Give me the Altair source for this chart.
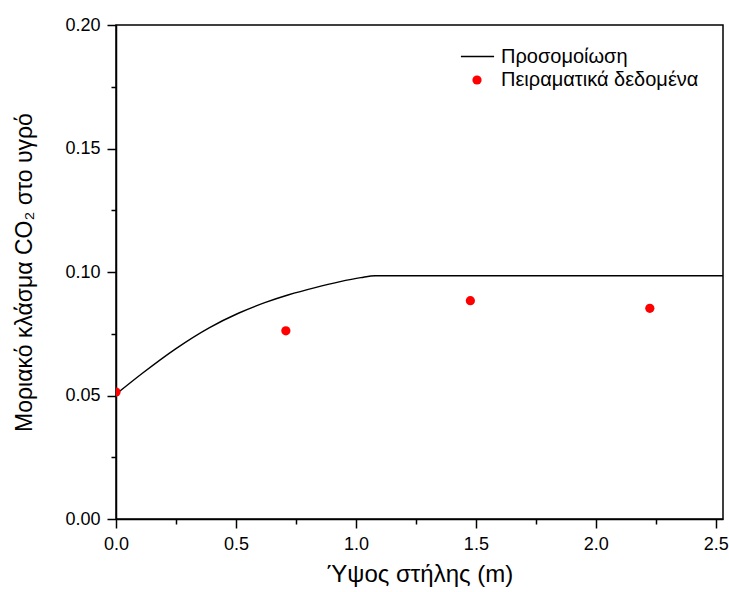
import altair as alt
import pandas as pd

# Simulation curve
sim_x = [0.0, 0.11, 0.25, 0.39, 0.51, 0.62, 0.72, 0.83, 0.93, 1.02, 1.08, 2.55]
sim_y = [0.0505, 0.0590, 0.0690, 0.0775, 0.0833, 0.0876, 0.0908, 0.0937, 0.0960, 0.0977, 0.0985, 0.0985]

# Experimental data
exp_x = [0.0, 0.708, 1.477, 2.225]
exp_y = [0.0514, 0.0762, 0.0884, 0.0853]

sim_label = "Προσομοίωση"
exp_label = "Πειραματικά δεδομένα"

x_ticks = [0.0, 0.25, 0.5, 0.75, 1.0, 1.25, 1.5, 1.75, 2.0, 2.25, 2.5]
y_ticks = [0.0, 0.025, 0.05, 0.075, 0.1, 0.125, 0.15, 0.175, 0.2]

sim_df = pd.DataFrame({"x": sim_x, "y": sim_y, "s": [sim_label] * len(sim_x)})
exp_df = pd.DataFrame({"x": exp_x, "y": exp_y, "s": [exp_label] * len(exp_x)})

FONT = "Liberation Sans"

x_axis = alt.Axis(
    values=x_ticks,
    labelExpr="abs(datum.value*2 - round(datum.value*2)) < 0.001 ? format(datum.value, '.1f') : ''",
    tickSize={"condition": {"test": "abs(datum.value*2 - round(datum.value*2)) < 0.001", "value": 9}, "value": 5},
    grid=False,
    title="Ύψος στήλης (m)",
    labelFontSize=18,
    titleFontSize=24,
    labelPadding=7,
    titlePadding=9,
    labelFlush=False,
    titleFontWeight="normal",
    domainColor="black",
    tickColor="black",
    labelColor="black",
    titleColor="black",
    domainWidth=1.5,
    tickWidth=1.5,
    labelFont=FONT,
    titleFont=FONT,
)

y_axis = alt.Axis(
    values=y_ticks,
    labelExpr="abs(datum.value*20 - round(datum.value*20)) < 0.001 ? format(datum.value, '.2f') : ''",
    tickSize={"condition": {"test": "abs(datum.value*20 - round(datum.value*20)) < 0.001", "value": 9}, "value": 5},
    grid=False,
    title="Μοριακό κλάσμα CO₂ στο υγρό",
    labelFontSize=18,
    titleFontSize=23,
    labelPadding=7,
    titlePadding=28,
    labelFlush=False,
    titleFontWeight="normal",
    domainColor="black",
    tickColor="black",
    labelColor="black",
    titleColor="black",
    domainWidth=1.5,
    tickWidth=1.5,
    labelFont=FONT,
    titleFont=FONT,
)

xs = alt.Scale(domain=[0, 2.53], nice=False, zero=False)
ys = alt.Scale(domain=[0, 0.2], nice=False)

line = alt.Chart(sim_df).mark_line(strokeWidth=1.4, interpolate="monotone", clip=True).encode(
    x=alt.X("x:Q", scale=xs, axis=x_axis),
    y=alt.Y("y:Q", scale=ys, axis=y_axis),
    stroke=alt.Stroke(
        "s:N",
        scale=alt.Scale(domain=[sim_label], range=["black"]),
        legend=alt.Legend(
            title=None,
            orient="none",
            legendX=344,
            legendY=14,
            symbolType="stroke",
            symbolSize=1100,
            symbolStrokeWidth=1.4,
            labelFontSize=20,
            labelFont=FONT,
            labelColor="black",
            labelOffset=6,
            labelLimit=0,
            padding=0,
        ),
    ),
)

pts = alt.Chart(exp_df).mark_circle(size=85, opacity=1, clip=True).encode(
    x=alt.X("x:Q", scale=xs),
    y=alt.Y("y:Q", scale=ys),
    fill=alt.Fill(
        "s:N",
        scale=alt.Scale(domain=[exp_label], range=["#ff0000"]),
        legend=alt.Legend(
            title=None,
            orient="none",
            legendX=351,
            legendY=45,
            symbolType="circle",
            symbolSize=85,
            symbolStrokeWidth=0,
            labelFontSize=20,
            labelFont=FONT,
            labelColor="black",
            labelOffset=14,
            labelLimit=0,
            padding=0,
        ),
    ),
)

chart = (
    alt.layer(line, pts)
    .resolve_scale(stroke="independent", fill="independent")
    .properties(
        width=607,
        height=494,
        autosize=alt.AutoSizeParams(type="none"),
        padding={"left": 116, "top": 25, "right": 6, "bottom": 73},
        background="white",
    )
    .configure_view(stroke="black", strokeWidth=1.5)
)

chart.save("out.html", embed_options={"renderer": "svg", "actions": False})
